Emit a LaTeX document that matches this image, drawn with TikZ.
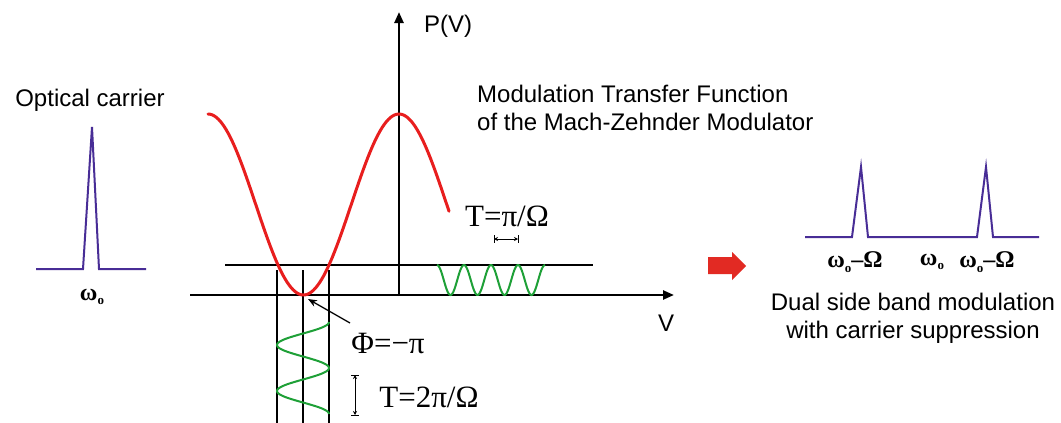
\documentclass[tikz,border=0pt]{standalone}
\usepackage{fontspec}
\setmainfont{Liberation Sans}
\newfontfamily\serifmath{Liberation Serif}
\usetikzlibrary{arrows.meta}
\definecolor{carrier}{RGB}{72,45,150}
\definecolor{curvered}{RGB}{232,30,30}
\definecolor{wavegreen}{RGB}{30,160,55}
\definecolor{arrowred}{RGB}{226,42,35}
\newcommand\wsub{{\serifmath\bfseries ω\raisebox{-0.4ex}{\fontsize{13}{13}\selectfont o}}}
\tikzset{
  sanslabel/.style={inner sep=0pt, font=\fontsize{24}{28}\selectfont},
  mathlabel/.style={inner sep=0pt, font=\serifmath\fontsize{31}{34}\selectfont},
  omegalabel/.style={inner sep=0pt, font=\serifmath\bfseries\fontsize{24}{28}\selectfont},
  axisline/.style={line width=2.4pt, -{Triangle[length=11pt,width=9pt]}},
  thinline/.style={line width=1.4pt},
  spectrum/.style={line width=2pt, color=carrier, line join=miter},
  dimarrow/.style={line width=1pt, {Stealth[length=4pt,width=4pt]}-{Stealth[length=4pt,width=4pt]}},
}
\begin{document}
\begin{tikzpicture}[x=1pt,y=-1pt]
\useasboundingbox (0,0) rectangle (1061,423);
\fill[white] (0,0) rectangle (1061,423);

% optical carrier
\node[sanslabel] (oc) at (90,100) {Optical carrier};
\draw[spectrum] (36,269) -- (83,269) -- (92,127) -- (99,269) -- (146,269);
\node[omegalabel] (w0) at (92,297) {\wsub};

% axes
\coordinate (xstart) at (190,295);
\coordinate (xend) at (674,295);
\coordinate (yorig) at (399,296);
\coordinate (ytop) at (399,12);
\draw[axisline] (xstart) -- (xend);
\draw[axisline] (yorig) -- (ytop);
\node[sanslabel, anchor=west] (pv) at (424,26) {P(V)};
\node[sanslabel] (vlab) at (666,323) {V};

% bias line and vertical lines
\coordinate (bl) at (225,265);
\coordinate (br) at (593,265);
\draw[thinline] (bl) -- (br);
\draw[thinline] (277,270) -- (277,423);
\draw[thinline] (303,270) -- (303,423);
\draw[thinline] (329,270) -- (329,423);

% transfer function
\draw[curvered, line width=3pt, line cap=round] plot[domain=208:449, samples=120, smooth] (\x,{204.5-90.5*cos(1.88482*(\x-399))});

% output wave (horizontal)
\draw[wavegreen, line width=2pt] plot[domain=437:545, samples=120, smooth] (\x,{280-15*cos(13.3333*(\x-437))});
% drive signal (vertical)
\draw[wavegreen, line width=2pt] plot[domain=322:414, samples=100, smooth] ({303+26*cos(7.82609*(\x-322))},\x);

% labels with dimension marks
\node[mathlabel] (tpi) at (507,216) {T=π/Ω};
\coordinate (da1) at (494,239);
\coordinate (da2) at (518,239);
\draw[dimarrow] (da1) -- (da2);
\draw[line width=1pt] (494,235) -- (494,243) (518,235) -- (518,243);

\node[mathlabel] (phi) at (388,343) {Φ=−π};
\coordinate (phitip) at (308,299);
\draw[line width=1.3pt, -{Stealth[length=9pt,width=7pt]}] (350,323) -- (phitip);

\node[mathlabel] (t2pi) at (429,397) {T=2π/Ω};
\coordinate (db1) at (355,375);
\coordinate (db2) at (355,415);
\draw[dimarrow] (db1) -- (db2);
\draw[line width=1pt] (351,375) -- (359,375) (351,415) -- (359,415);

% title
\node[sanslabel, anchor=west, align=left] (mtf) at (477,108) {Modulation Transfer Function\\of the Mach-Zehnder Modulator};

% red block arrow
\fill[arrowred] (708,257) -- (732,257) -- (732,252) -- (746,266) -- (732,280) -- (732,274) -- (708,274) -- cycle;

% output spectrum
\draw[spectrum] (805,237) -- (852,237) -- (861,167) -- (868,237) -- (977,237) -- (986,167) -- (993,237) -- (1039,237);
\node[omegalabel] (wl) at (855,262) {\wsub–Ω};
\node[omegalabel] (wc) at (932,262) {\wsub};
\node[omegalabel] (wr) at (987,262) {\wsub–Ω};
\node[sanslabel, align=center] (dsb) at (913,318) {Dual side band modulation\\with carrier suppression};
\end{tikzpicture}
\end{document}
